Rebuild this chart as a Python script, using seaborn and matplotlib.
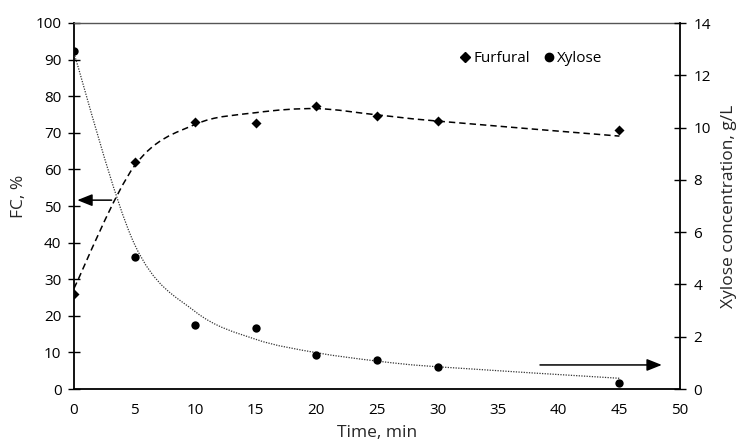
import numpy as np
import matplotlib
matplotlib.use("Agg")
import matplotlib.pyplot as plt
from matplotlib.path import Path
from matplotlib.patches import PathPatch
from matplotlib.lines import Line2D
import seaborn as sns

# measured data
time_min = [0, 5, 10, 15, 20, 25, 30, 45]
furfural_fc = [26.0, 62.0, 73.0, 72.7, 77.2, 74.7, 73.1, 70.9]
xylose_gL = [12.92, 5.04, 2.46, 2.35, 1.30, 1.11, 0.85, 0.24]
# model curves (drawn as smoothed lines through the model values)
furfural_model = [27.5, 61.0, 72.3, 75.5, 76.6, 74.9, 73.2, 69.1]
xylose_model = [12.84, 5.53, 2.96, 1.90, 1.39, 1.07, 0.85, 0.41]

x_ticks = [0, 5, 10, 15, 20, 25, 30, 35, 40, 45, 50]
left_ticks = [0, 10, 20, 30, 40, 50, 60, 70, 80, 90, 100]
right_ticks = [0, 2, 4, 6, 8, 10, 12, 14]

sns.set_theme(style="white")
plt.rcParams['font.family'] = ['Open Sans', 'DejaVu Sans']
plt.rcParams['text.color'] = 'black'


def smooth_path(xv, yv):
    """Excel-like smoothed line: cubic Bezier segments (Catmull-Rom control points)."""
    pts = np.column_stack([xv, yv]).astype(float)
    n = len(pts)
    verts = [pts[0]]
    codes = [Path.MOVETO]
    for i in range(n - 1):
        p0 = pts[i - 1] if i > 0 else pts[i]
        p1 = pts[i]
        p2 = pts[i + 1]
        p3 = pts[i + 2] if i + 2 < n else pts[i + 1]
        c1 = p1 + (p2 - p0) / 6.0
        c2 = p2 - (p3 - p1) / 6.0
        verts += [c1, c2, p2]
        codes += [Path.CURVE4] * 3
    return Path(verts, codes)


fig = plt.figure(figsize=(7.41, 4.44), dpi=100)
ax = fig.add_axes([74 / 741, 55 / 444, 606 / 741, 366 / 444])
ax2 = ax.twinx()

ax.add_patch(PathPatch(smooth_path(time_min, furfural_model), fill=False,
                       edgecolor='black', lw=1.1, ls=(0, (4.2, 2.6))))
ax2.add_patch(PathPatch(smooth_path(time_min, xylose_model), fill=False,
                        edgecolor='#333333', lw=0.9, ls=(0, (1, 1.1))))

sns.scatterplot(x=time_min, y=furfural_fc, ax=ax, marker='D', s=26, color='black',
                edgecolor='black', linewidth=0, legend=False, zorder=5)
sns.scatterplot(x=time_min, y=xylose_gL, ax=ax2, marker='o', s=36, color='black',
                edgecolor='black', linewidth=0, legend=False, zorder=5)

ax.set_xlim(0, 50)
ax.set_ylim(0, 100)
ax2.set_ylim(0, 14)
ax.set_xticks(x_ticks)
ax.set_yticks(left_ticks)
ax2.set_yticks(right_ticks)
fs = 11
ax.tick_params(axis='x', direction='in', length=4.5, width=1, labelsize=fs, pad=10, colors='black')
ax.tick_params(axis='y', direction='inout', length=8, width=1, labelsize=fs, pad=5, colors='black')
ax2.tick_params(axis='y', direction='inout', length=9, width=1, labelsize=fs, pad=5, colors='black')
ax.grid(False)
ax2.grid(False)

lfs = 12.5
ax.set_xlabel('Time, min', fontsize=lfs)
ax.set_ylabel('FC, %', fontsize=lfs)
ax2.set_ylabel('Xylose concentration, g/L', fontsize=lfs)
ax.xaxis.set_label_coords(0.5, -0.098)
ax.yaxis.set_label_coords(-0.077, 0.525)
ax2.yaxis.set_label_coords(1.068, 0.5)

for a in (ax, ax2):
    for s in a.spines.values():
        s.set_visible(False)
ax.spines['left'].set_visible(True)
ax.spines['bottom'].set_visible(True)
ax.spines['top'].set_visible(True)
ax2.spines['right'].set_visible(True)
for s in ['left', 'bottom']:
    ax.spines[s].set_color('black')
    ax.spines[s].set_linewidth(1.3)
ax.spines['top'].set_color('#555555')
ax.spines['top'].set_linewidth(1.0)
ax2.spines['right'].set_color('black')
ax2.spines['right'].set_linewidth(1.3)

# arrows pointing to the relevant axes
astyle = dict(arrowstyle='-|>,head_length=0.65,head_width=0.26', color='black',
              lw=1.1, mutation_scale=14, shrinkA=0, shrinkB=0)
ax.annotate('', xy=(0.27, 51.6), xytext=(3.1, 51.6), arrowprops=astyle)
ax2.annotate('', xy=(48.5, 0.92), xytext=(38.45, 0.92), arrowprops=astyle)

# legend
handles = [Line2D([], [], marker='D', ls='none', color='black', markersize=4.8),
           Line2D([], [], marker='o', ls='none', color='black', markersize=6.0)]
ax.legend(handles, ['Furfural', 'Xylose'], loc='center left', bbox_to_anchor=(0.633, 0.902),
          ncol=2, frameon=False, fontsize=11, handletextpad=0.05, columnspacing=0.7,
          handlelength=1.0, borderaxespad=0, borderpad=0)

fig.savefig('out.png', dpi=100)
